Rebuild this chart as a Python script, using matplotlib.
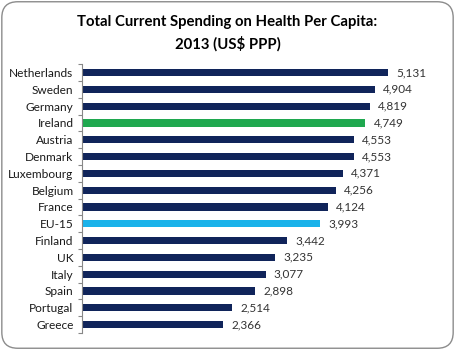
import numpy as np
import matplotlib
matplotlib.use("Agg")
import matplotlib.pyplot as plt
from matplotlib.patches import FancyBboxPatch

# data (top to bottom)
countries = ["Netherlands", "Sweden", "Germany", "Ireland", "Austria", "Denmark",
             "Luxembourg", "Belgium", "France", "EU-15", "Finland", "UK", "Italy",
             "Spain", "Portugal", "Greece"]
spending = [5131, 4904, 4819, 4749, 4553, 4553, 4371, 4256, 4124, 3993,
            3442, 3235, 3077, 2898, 2514, 2366]

navy = "#10245a"
colors = [navy] * len(countries)
colors[countries.index("Ireland")] = "#1fa84f"
colors[countries.index("EU-15")] = "#1ab2ea"

plt.rcParams['font.family'] = ['Lato', 'DejaVu Sans']

fig = plt.figure(figsize=(4.55, 3.5), dpi=100)
fig.patch.set_facecolor("white")

# rounded frame round the whole chart
frame = FancyBboxPatch((0.004, 0.005), 0.992, 0.99, boxstyle="round,pad=0,rounding_size=0.035",
                       transform=fig.transFigure, facecolor="white", edgecolor="#8c8c8c",
                       linewidth=1.0, mutation_aspect=455 / 350, zorder=-10)
fig.patches.append(frame)

ax = fig.add_axes([0.18, 0.0486, 0.787, 0.768])
ax.set_facecolor("none")

y = np.arange(len(countries))
ax.barh(y, spending, height=0.43, color=colors)
for yi, v in zip(y, spending):
    ax.text(v + 140, yi, f"{v:,}", va="center", ha="left", fontsize=8.5, color="#333333")

ax.set_xlim(0, 6000)
ax.set_ylim(len(countries) - 0.5, -0.5)
ax.set_yticks(y)
ax.set_yticklabels(countries, fontsize=8.6, color="#1a1a1a")
ax.set_yticks(np.arange(-0.5, len(countries), 1), minor=True)
ax.tick_params(axis="y", which="major", length=0, pad=6)
ax.tick_params(axis="y", which="minor", length=3, color="#888888", width=0.8)
ax.set_xticks([])

for s in ["top", "right", "bottom"]:
    ax.spines[s].set_visible(False)
ax.spines["left"].set_color("#888888")
ax.spines["left"].set_linewidth(0.8)

fig.text(0.5, 1 - 22 / 350, "Total Current Spending on Health Per Capita:",
         ha="center", va="center", fontsize=10.7, fontweight="bold")
fig.text(0.5, 1 - 44 / 350, "2013 (US$ PPP)",
         ha="center", va="center", fontsize=10.7, fontweight="bold")

fig.savefig("out.png", dpi=100)
